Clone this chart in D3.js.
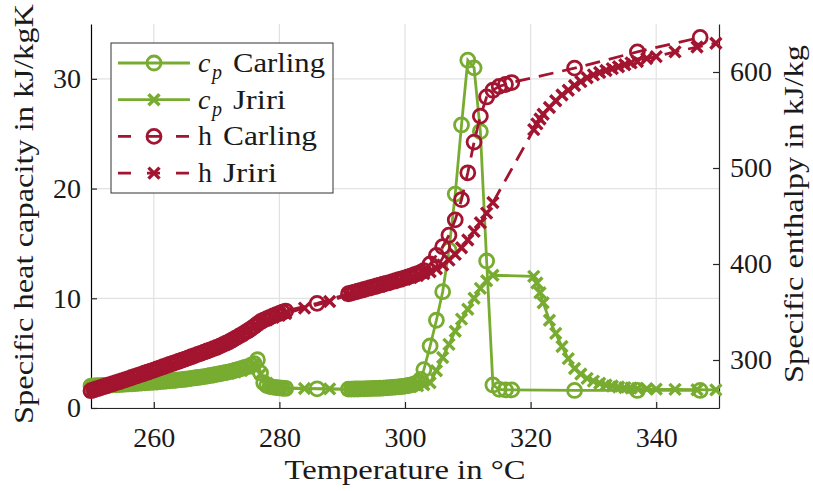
<!DOCTYPE html>
<html>
<head>
<meta charset="utf-8">
<script src="https://cdn.jsdelivr.net/npm/d3@7"></script>
<style>
  body { margin: 0; background: #fff; }
  text { font-family: "Liberation Serif", "Times New Roman", serif; fill: #1a1a1a; }
</style>
</head>
<body>
<script>
// ---- data ----
var tCarling = [
  250, 250.5, 251, 251.5, 252, 252.5, 253, 253.5, 254, 254.5,
  255, 255.5, 256, 256.5, 257, 257.5, 258, 258.5, 259, 259.5,
  260, 260.5, 261, 261.5, 262, 262.5, 263, 263.5, 264, 264.5,
  265, 265.5, 266, 266.5, 267, 267.5, 268, 268.5, 269, 269.5,
  270, 270.5, 271, 271.5, 272, 272.5, 273, 273.5, 274, 274.5,
  275, 275.5, 276, 276.5, 277, 277.5, 278, 278.5, 279, 279.5,
  280, 280.5, 281,
  286,
  291, 291.5, 292, 292.5, 293, 293.5, 294, 294.5, 295, 295.5,
  296, 296.5, 297, 297.5, 298, 298.5, 299, 299.5, 300, 300.5,
  301, 301.5, 302, 302.5, 303,
  304, 305, 306, 307, 308, 309, 310, 311, 312, 313, 314, 315, 316, 317,
  327, 337, 347
];
var cpCarling = [
  2.00, 2.01, 2.03, 2.04, 2.06, 2.07, 2.09, 2.10, 2.12, 2.13,
  2.15, 2.17, 2.19, 2.21, 2.23, 2.25, 2.27, 2.29, 2.31, 2.33,
  2.35, 2.37, 2.40, 2.42, 2.45, 2.47, 2.50, 2.53, 2.56, 2.59,
  2.62, 2.66, 2.70, 2.74, 2.78, 2.82, 2.86, 2.91, 2.96, 3.01,
  3.06, 3.12, 3.18, 3.24, 3.30, 3.37, 3.44, 3.52, 3.60, 3.69,
  3.78, 3.90, 4.05, 4.40, 3.20, 2.30, 2.05, 1.95, 1.90, 1.86,
  1.83, 1.80, 1.78,
  1.75,
  1.72, 1.72, 1.73, 1.73, 1.74, 1.75, 1.76, 1.77, 1.78, 1.79,
  1.80, 1.82, 1.84, 1.86, 1.88, 1.90, 1.93, 1.96, 2.00, 2.05,
  2.10, 2.20, 2.32, 2.60, 3.50,
  5.65, 8.0, 10.6, 14.4, 19.5, 25.8, 31.7, 31.0, 25.2, 13.4, 2.1, 1.7, 1.65, 1.65,
  1.6, 1.6, 1.6
];
var hCarling = [
  268.0, 269.0, 270.1, 271.1, 272.2, 273.2, 274.3, 275.3, 276.4, 277.4,
  278.5, 279.6, 280.7, 281.8, 282.9, 284.0, 285.1, 286.2, 287.3, 288.4,
  289.5, 290.7, 291.8, 293.0, 294.1, 295.3, 296.4, 297.6, 298.7, 299.9,
  301.0, 302.2, 303.4, 304.6, 305.8, 307.0, 308.2, 309.4, 310.6, 311.8,
  313.0, 314.5, 316.0, 317.5, 319.0, 320.9, 322.8, 324.6, 326.5, 328.5,
  330.5, 332.7, 335.0, 337.5, 340.0, 341.6, 343.0, 344.5, 346.0, 347.3,
  348.5, 349.8, 351.0,
  359,
  369.0, 369.9, 370.8, 371.7, 372.6, 373.5, 374.4, 375.3, 376.2, 377.1,
  378.0, 378.9, 379.8, 380.7, 381.7, 382.6, 383.6, 384.6, 385.6, 386.6,
  387.7, 388.8, 390.0, 391.3, 393.0,
  400, 409, 418, 430, 446, 467, 495, 527, 554, 574, 581, 585, 587, 589,
  604, 621, 636
];

var tJriri = [
  250, 251, 252, 253, 254, 255, 256, 257, 258, 259,
  260, 261, 262, 263, 264, 265, 266, 267, 268, 269,
  270, 271, 272, 273, 274, 275, 276, 277, 278, 279,
  280, 281,
  284, 288,
  291, 292, 293, 294, 295, 296, 297, 298, 299, 300, 301, 302, 303,
  304, 305, 306, 307, 308, 309, 310, 311, 312, 313, 314,
  320.5, 321, 321.5, 322, 323, 324, 325, 326, 327, 328,
  329, 330, 331, 332, 333, 334, 335, 336, 337, 338.5,
  340, 343, 346.5, 349.5
];
var cpJriri = [
  1.95, 1.98, 2.01, 2.04, 2.07, 2.10, 2.14, 2.18, 2.22, 2.26,
  2.30, 2.35, 2.40, 2.45, 2.50, 2.56, 2.63, 2.70, 2.78, 2.86,
  2.95, 3.05, 3.16, 3.28, 3.42, 3.60, 3.85, 3.10, 2.25, 2.02,
  1.92, 1.86,
  1.78, 1.74,
  1.70, 1.71, 1.72, 1.74, 1.76, 1.78, 1.80, 1.83, 1.86, 1.90, 1.95, 2.02, 2.12,
  2.30, 3.40, 4.60, 5.80, 7.00, 8.10, 9.00, 10.0, 10.9, 11.6, 12.1,
  12.0, 11.4, 10.5, 9.6, 8.0, 6.8, 5.6, 4.5, 3.6, 3.1,
  2.7, 2.45, 2.25, 2.1, 2.0, 1.92, 1.86, 1.82, 1.78, 1.75,
  1.72, 1.70, 1.67, 1.65
];
var hJriri = [
  267.5, 269.5, 271.6, 273.7, 275.8, 277.9, 280.1, 282.3, 284.5, 286.7,
  289.0, 291.3, 293.6, 296.0, 298.4, 300.8, 303.2, 305.6, 308.0, 310.5,
  313.0, 316.0, 319.0, 322.5, 326.0, 330.0, 334.5, 339.0, 342.0, 344.5,
  346.5, 348.5,
  354, 361,
  368.0, 369.8, 371.5, 373.2, 375.0, 376.8, 378.6, 380.4, 382.2, 384.0, 386.0, 388.0, 390.0,
  392, 395, 399, 404, 410, 417, 425, 434, 443, 453, 464,
  540, 546, 551, 556, 563, 570, 576, 581, 586, 590,
  594, 597, 599.5, 601.5, 603.5, 605.5, 607.5, 609.5, 611, 614,
  616, 621, 626, 630
];

var xTicks = [260, 280, 300, 320, 340];
var cpTicks = [0, 10, 20, 30];
var hTicks = [300, 400, 500, 600];

var green = "#77ac30", red = "#a2142f";

// ---- chart ----
var width = 813, height = 491;
var plotL = 91, plotR = 719, plotT = 24, plotB = 408;

var x = d3.scaleLinear().domain([250, 350]).range([plotL, plotR]);
var yL = d3.scaleLinear().domain([0, 35]).range([plotB, plotT]);
var yR = d3.scaleLinear().domain([250, 650]).range([plotB, plotT]);

var svg = d3.select("body").append("svg")
    .attr("width", width)
    .attr("height", height);

// grid (from bottom and left axes)
svg.append("g").selectAll("line").data(xTicks).enter().append("line")
    .attr("x1", function(d) { return x(d); }).attr("x2", function(d) { return x(d); })
    .attr("y1", plotT).attr("y2", plotB)
    .attr("stroke", "#e2e2e2").attr("stroke-width", 1.2);
svg.append("g").selectAll("line").data(cpTicks).enter().append("line")
    .attr("x1", plotL).attr("x2", plotR)
    .attr("y1", function(d) { return yL(d); }).attr("y2", function(d) { return yL(d); })
    .attr("stroke", "#e2e2e2").attr("stroke-width", 1.2);

// axes
var xAxis = svg.append("g").attr("transform", "translate(0," + plotB + ")")
    .call(d3.axisBottom(x).tickValues(xTicks).tickSizeInner(-6).tickSizeOuter(0).tickPadding(19));
var lAxis = svg.append("g").attr("transform", "translate(" + plotL + ",0)")
    .call(d3.axisLeft(yL).tickValues(cpTicks).tickSizeInner(-6).tickSizeOuter(0).tickPadding(10));
var rAxis = svg.append("g").attr("transform", "translate(" + plotR + ",0)")
    .call(d3.axisRight(yR).tickValues(hTicks).tickSizeInner(-6).tickSizeOuter(0).tickPadding(11));

[xAxis, lAxis, rAxis].forEach(function(a) {
  a.selectAll("text").style("font-size", "28px").attr("fill", "#1a1a1a")
      .style("font-family", '"Liberation Serif", serif');
  a.selectAll("line").attr("stroke", "#262626").attr("stroke-width", 1.2);
  a.select(".domain").attr("stroke", "#262626").attr("stroke-width", 1.2);
});
lAxis.select(".domain").attr("stroke", "#000");

// series
function pts(ts, vs) {
  return ts.map(function(t, i) { return {t: t, v: vs[i]}; });
}
var series = [
  {data: pts(tCarling, cpCarling), y: yL, color: green, marker: "o", dash: null},
  {data: pts(tJriri, cpJriri), y: yL, color: green, marker: "x", dash: null},
  {data: pts(tCarling, hCarling), y: yR, color: red, marker: "o", dash: "15,9"},
  {data: pts(tJriri, hJriri), y: yR, color: red, marker: "x", dash: "15,9"}
];

function drawMarkers(g, data, s, xf, yf) {
  if (s.marker === "o") {
    g.selectAll("circle").data(data).enter().append("circle")
        .attr("cx", xf).attr("cy", yf).attr("r", 7)
        .attr("fill", "none").attr("stroke", s.color).attr("stroke-width", 2.8);
  } else {
    g.selectAll("path.mk").data(data).enter().append("path").attr("class", "mk")
        .attr("transform", function(d, i) { return "translate(" + xf(d, i) + "," + yf(d, i) + ")"; })
        .attr("d", "M-5.5,-5.5L5.5,5.5M-5.5,5.5L5.5,-5.5")
        .attr("fill", "none").attr("stroke", s.color).attr("stroke-width", 3.4);
  }
}

series.forEach(function(s) {
  var g = svg.append("g");
  var line = d3.line().x(function(d) { return x(d.t); }).y(function(d) { return s.y(d.v); });
  g.append("path").datum(s.data)
      .attr("d", line)
      .attr("fill", "none")
      .attr("stroke", s.color)
      .attr("stroke-width", 2.8)
      .attr("stroke-dasharray", s.dash);
  drawMarkers(g, s.data, s,
      function(d) { return x(d.t); },
      function(d) { return s.y(d.v); });
});

// legend
var legend = svg.append("g");
legend.append("rect")
    .attr("x", 111).attr("y", 43).attr("width", 222).attr("height", 150)
    .attr("fill", "#fff").attr("stroke", "#333").attr("stroke-width", 1);

var legendItems = [
  {sym: "c", sub: "p", word: "Carling", wx: 233, wl: 92},
  {sym: "c", sub: "p", word: "Jriri", wx: 233, wl: 53},
  {sym: "h", sub: null, word: "Carling", wx: 223, wl: 94},
  {sym: "h", sub: null, word: "Jriri", wx: 223, wl: 54}
];
legendItems.forEach(function(it, i) {
  var s = series[i];
  var cy = 63 + i * 36.7;
  var row = legend.append("g");
  row.append("line")
      .attr("x1", 118).attr("x2", 190).attr("y1", cy).attr("y2", cy)
      .attr("stroke", s.color).attr("stroke-width", 2.8)
      .attr("stroke-dasharray", s.dash ? "13,16" : null);
  drawMarkers(row, [0], s, function() { return 154; }, function() { return cy; });
  var base = cy + 9;
  row.append("text").attr("x", 198).attr("y", base)
      .style("font-size", "28px")
      .style("font-style", it.sub ? "italic" : "normal")
      .text(it.sym);
  if (it.sub) {
    row.append("text").attr("x", 212).attr("y", base + 7)
        .style("font-size", "20px").style("font-style", "italic")
        .text(it.sub);
  }
  row.append("text").attr("x", it.wx).attr("y", base)
      .style("font-size", "28px")
      .attr("textLength", it.wl).attr("lengthAdjust", "spacingAndGlyphs")
      .text(it.word);
});

// axis titles
var xTitleLen = 241;
svg.append("text")
    .attr("x", 405 - xTitleLen / 2).attr("y", 479)
    .style("font-size", "28px")
    .attr("textLength", xTitleLen).attr("lengthAdjust", "spacingAndGlyphs")
    .text("Temperature in \u00b0C");

var lTitleLen = 420;
svg.append("text")
    .attr("transform", "translate(33,214) rotate(-90)")
    .attr("x", -lTitleLen / 2).attr("y", 0)
    .style("font-size", "28px")
    .attr("textLength", lTitleLen).attr("lengthAdjust", "spacingAndGlyphs")
    .text("Specific heat capacity in kJ/kgK");

var rTitleLen = 338;
svg.append("text")
    .attr("transform", "translate(803,214) rotate(-90)")
    .attr("x", -rTitleLen / 2).attr("y", 0)
    .style("font-size", "28px")
    .attr("textLength", rTitleLen).attr("lengthAdjust", "spacingAndGlyphs")
    .text("Specific enthalpy in kJ/kg");
</script>
</body>
</html>
